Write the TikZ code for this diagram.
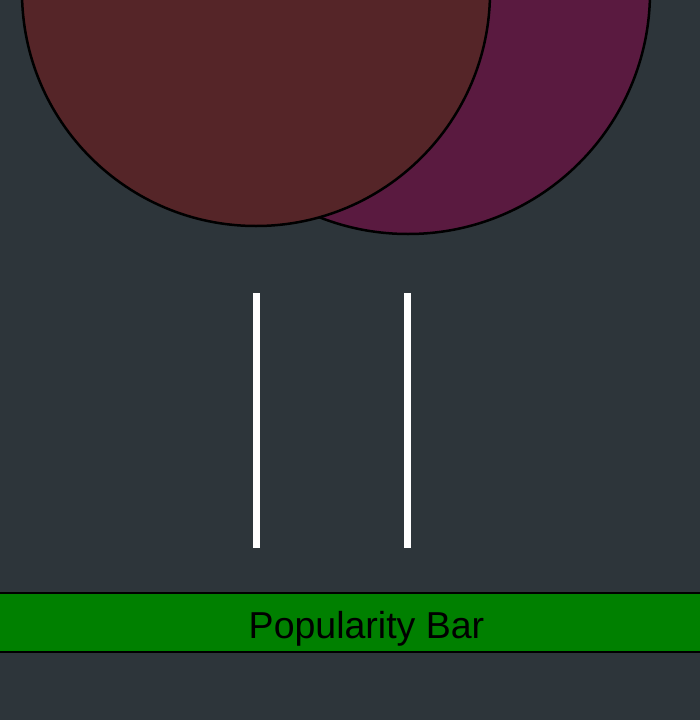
\documentclass[tikz,border=0pt]{standalone}
\usepackage{fontspec}
\setmainfont{Liberation Sans}
\definecolor{bgc}{HTML}{2D353A}
\definecolor{brownc}{HTML}{552528}
\definecolor{purplec}{HTML}{5A1A40}
\definecolor{barc}{HTML}{008000}
\tikzset{
  disc/.style={draw=black, line width=2.5pt},
  stem/.style={draw=white, line width=7pt},
  barbox/.style={draw=black, line width=2.5pt, fill=barc},
}
\begin{document}
\begin{tikzpicture}[x=1pt,y=-1pt]
\fill[bgc] (0,0) rectangle (700,720);
\useasboundingbox (0,0) rectangle (700,720);
\begin{scope}
\clip (0,0) rectangle (700,720);
\path[disc, fill=purplec] (408,-8) circle[radius=242];
\path[disc, fill=brownc] (256,-8) circle[radius=234];
\end{scope}
\coordinate (l1t) at (256,293);
\coordinate (l1b) at (256,548);
\coordinate (l2t) at (407,293);
\coordinate (l2b) at (407,548);
\draw[stem] (l1t) -- (l1b);
\draw[stem] (l2t) -- (l2b);
\path[barbox] (-3,593) rectangle (703,652);
\node[font=\fontsize{37.5}{40}\selectfont, text=black, anchor=base, inner sep=0pt] (bar) at (366.5,638) {Popularity Bar};
\end{tikzpicture}
\end{document}
